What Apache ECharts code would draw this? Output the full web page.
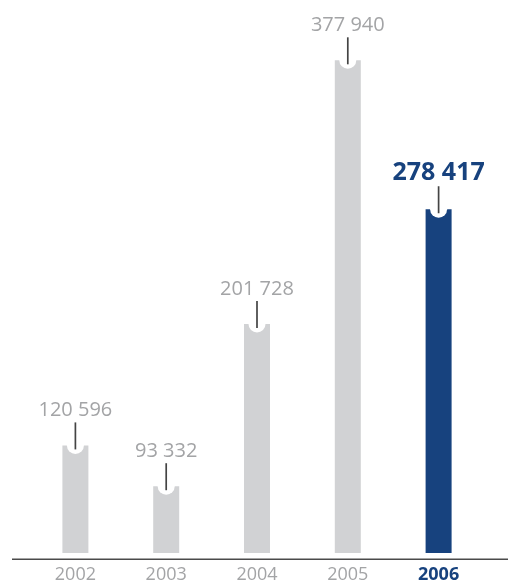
<!DOCTYPE html>
<html>
<head>
<meta charset="utf-8">
<script src="https://cdn.jsdelivr.net/npm/echarts@6/dist/echarts.min.js"></script>
<style>
  html, body { margin: 0; padding: 0; background: #fff; }
  #chart { width: 509px; height: 584px; }
</style>
</head>
<body>
<div id="chart"></div>
<script>
// Yearly totals
const years = ['2002', '2003', '2004', '2005', '2006'];
const values = [120596, 93332, 201728, 377940, 278417];
const valueLabels = ['120 596', '93 332', '201 728', '377 940', '278 417'];
const highlightYear = '2006';

const GREY = '#d1d2d4';
const BLUE = '#17427e';
const TEXT_GREY = '#a3a4a6';
const AXIS_MIN = 48700;
const AXIS_MAX = 400000;

const chart = echarts.init(document.getElementById('chart'));

// Bar with a round notch on top, a leader line and the value above it
function renderBar(params, api) {
  const idx = api.value(0);
  const val = api.value(1);
  const top = api.coord([idx, val]);
  const base = api.coord([idx, AXIS_MIN]);
  const barW = 26;
  const cx = top[0];
  const isHi = years[idx] === highlightYear;
  const fill = isHi ? BLUE : GREY;
  return {
    type: 'group',
    children: [
      {
        type: 'rect',
        shape: { x: cx - barW / 2, y: top[1], width: barW, height: base[1] - top[1] },
        style: { fill: fill }
      },
      {
        type: 'circle',
        shape: { cx: cx, cy: top[1], r: 8.5 },
        style: { fill: '#ffffff' }
      },
      {
        type: 'line',
        shape: { x1: cx, y1: top[1] - 23, x2: cx, y2: top[1] + 4 },
        style: { stroke: '#444444', lineWidth: 1.7 }
      },
      {
        type: 'text',
        x: cx,
        y: top[1] - (isHi ? 24 : 25),
        style: {
          text: valueLabels[idx],
          fill: isHi ? BLUE : TEXT_GREY,
          font: (isHi ? 'bold 25px' : '20px') + ' "Open Sans", "Noto Sans", sans-serif',
          align: 'center',
          verticalAlign: 'bottom'
        }
      }
    ]
  };
}

chart.setOption({
  animation: false,
  backgroundColor: '#ffffff',
  grid: { left: 30, right: 25, top: 27.3, bottom: 29.3 },
  xAxis: {
    type: 'category',
    data: years,
    axisLine: { show: false },
    axisTick: { show: false },
    axisLabel: {
      interval: 0,
      margin: 13,
      fontSize: 18,
      fontFamily: '"Open Sans", "Noto Sans", sans-serif',
      formatter: function (v) { return v === highlightYear ? '{hi|' + v + '}' : '{lo|' + v + '}'; },
      rich: {
        lo: { color: TEXT_GREY, fontSize: 18, fontFamily: '"Open Sans", sans-serif' },
        hi: { color: BLUE, fontSize: 18, fontWeight: 'bold', fontFamily: '"Open Sans", sans-serif' }
      }
    }
  },
  yAxis: {
    type: 'value',
    min: AXIS_MIN,
    max: AXIS_MAX,
    show: false
  },
  graphic: [
    {
      type: 'line',
      shape: { x1: 12, y1: 559.3, x2: 508, y2: 559.3 },
      style: { stroke: '#4a4a4a', lineWidth: 1.6 }
    }
  ],
  series: [{
    type: 'custom',
    renderItem: renderBar,
    data: values.map((v, i) => [i, v]),
    encode: { x: 0, y: 1 }
  }]
});
</script>
</body>
</html>
